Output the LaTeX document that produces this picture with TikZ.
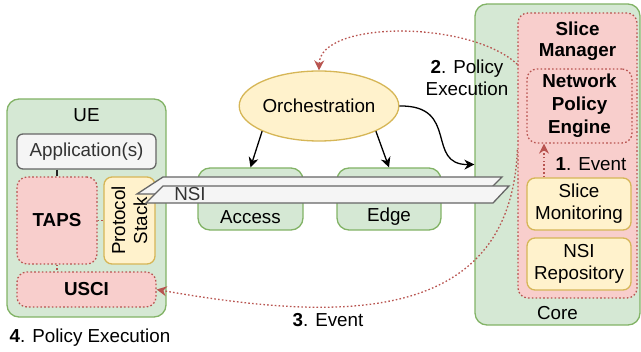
\documentclass[tikz,border=0pt]{standalone}
\usepackage{fontspec}
\setmainfont{Liberation Sans}
\usetikzlibrary{shapes.geometric,arrows.meta,calc}
\definecolor{gfill}{HTML}{D5E8D4}
\definecolor{gline}{HTML}{82B366}
\definecolor{rfill}{HTML}{F8CECC}
\definecolor{rline}{HTML}{B85450}
\definecolor{yfill}{HTML}{FFF2CC}
\definecolor{yline}{HTML}{D6B656}
\definecolor{kfill}{HTML}{F5F5F5}
\definecolor{kline}{HTML}{666666}
\definecolor{ktext}{HTML}{333333}
\tikzset{
  greenbox/.style={draw=gline, fill=gfill, rounded corners=6pt, inner sep=1pt},
  redbox/.style={draw=rline, fill=rfill, rounded corners=5pt, dash pattern=on 0.8pt off 1.1pt, inner sep=1pt},
  yellowbox/.style={draw=yline, fill=yfill, rounded corners=4pt, inner sep=1pt, align=center},
  graybox/.style={draw=kline, fill=kfill, rounded corners=3pt, inner sep=1pt},
  reddot/.style={draw=rline, dash pattern=on 0.8pt off 1.1pt},
  arr/.style={-{Stealth[length=5pt,width=5pt]}},
  redarr/.style={reddot, -{Stealth[length=5pt,width=5pt,fill=rline]}},
  sheet/.style={draw=kline, fill=kfill},
}
\begin{document}
\begin{tikzpicture}[x=0.5pt,y=-0.5pt, font=\fontsize{9.4pt}{11pt}\selectfont, line width=0.65pt]
\useasboundingbox (0,0) rectangle (641,352);

% UE
\node[greenbox, minimum width=79.5pt, minimum height=109pt,
      label={[anchor=center,yshift=-8.5pt]north:UE}] (ue) at (86.5,208) {};
\node[graybox, minimum width=69.5pt, minimum height=17.5pt, text=ktext] (app) at (86.5,151.5) {Application(s)};
\node[redbox, minimum width=40pt, minimum height=43.5pt, font=\fontsize{9.4pt}{11pt}\selectfont\bfseries] (taps) at (57,220.5) {TAPS};
\node[yellowbox, minimum width=25.5pt, minimum height=43.5pt] (ps) at (129.5,220.5) {};
\node[rotate=90, align=center, inner sep=0pt] (pstext) at (ps.center) {Protocol\\Stack};
\node[redbox, minimum width=69.5pt, minimum height=17.5pt, font=\fontsize{9.4pt}{11pt}\selectfont\bfseries] (usci) at (86.5,289.5) {USCI};
\draw[black!85] (app.south -| taps.north) -- (taps.north);
\draw[reddot] (taps.east) -- (ps.west);
\draw[reddot] (taps.south) -- (taps.south |- usci.north);
\node[anchor=west, inner sep=0pt] (step4) at (9,338) {\textbf{4}. Policy Execution};

% Orchestration, Access, Edge
\node[ellipse, draw=yline, fill=yfill, minimum width=70pt, minimum height=35pt, inner sep=0pt] (orch) at (319,106) {Orchestration};
\node[greenbox, minimum width=52.5pt, minimum height=31pt,
      label={[anchor=center,yshift=7pt]south:Access}] (access) at (250.5,199) {};
\node[greenbox, minimum width=52pt, minimum height=31pt,
      label={[anchor=center,yshift=7pt]south:Edge}] (edge) at (389,199) {};

% Core
\node[greenbox, minimum width=82.5pt, minimum height=160.5pt,
      label={[anchor=center,yshift=6.5pt]south:Core}] (core) at (557.5,164.5) {};
\node[redbox, minimum width=59.5pt, minimum height=142.5pt, align=center,
      label={[anchor=center,yshift=-14.25pt,align=center,font=\fontsize{9.4pt}{10.5pt}\selectfont\bfseries]north:Slice\\Manager}] (sm) at (577.5,155.5) {};
\node[redbox, minimum width=52.5pt, minimum height=37pt, align=center,
      font=\fontsize{9.4pt}{11.5pt}\selectfont\bfseries] (npe) at (579.5,106) {Network\\Policy\\Engine};
\node[yellowbox, minimum width=52pt, minimum height=26pt] (mon) at (579,204) {Slice\\Monitoring};
\node[yellowbox, minimum width=52pt, minimum height=26pt] (repo) at (579,264) {NSI\\Repository};
\node[inner sep=0pt] (step1) at (591,164) {\textbf{1}. Event};
\draw[redarr] (mon.north -| 544,0) -- (npe.south -| 544,0);

% NSI sheets
\path[sheet] (163,177) -- (502,177) -- (485,194) -- (137,194) -- cycle;
\path[sheet] (163,186) -- (509,186) -- (493,203) -- (146,203) -- cycle;
\node[text=ktext, inner sep=0pt] (nsi) at (190,194) {NSI};

% Arrows
\draw[arr] (orch.south west) -- (access.north);
\draw[arr] (orch.south east) -- (edge.north);
\draw[arr] (orch.east) .. controls (460,105) and (425,165) .. (core.west);
\draw[redarr] ([yshift=-26pt]sm.north west) .. controls (470,20) and (320,20) .. (orch.north);
\draw[redarr] ([yshift=2.75pt]sm.west) .. controls (510,330) and (330,320) .. (usci.east);
\node[align=center, inner sep=0pt] (step2) at (467,78) {\textbf{2}. Policy\\Execution};
\node[inner sep=0pt] (step3) at (328,320) {\textbf{3}. Event};
\end{tikzpicture}
\end{document}
